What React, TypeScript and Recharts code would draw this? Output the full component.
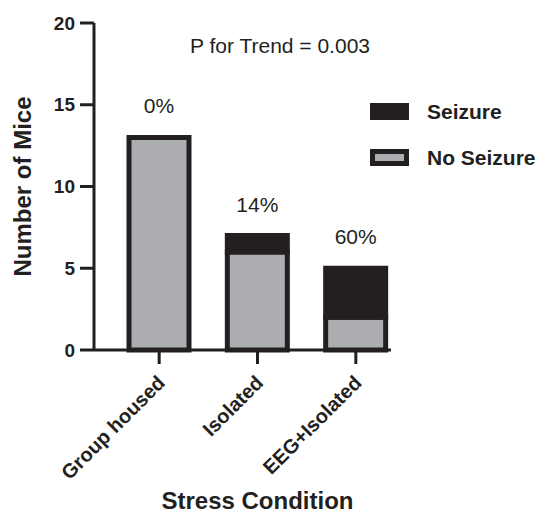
import { BarChart, Bar, XAxis, YAxis, Legend, LabelList, Label } from "recharts";

const categories = ["Group housed", "Isolated", "EEG+Isolated"];
const noSeizure = [13, 6, 2];
const seizure = [0, 1, 3];
const yTicks = [0, 5, 10, 15, 20];
const trendNote = "P for Trend = 0.003";

const INK = "#231f20";
const GREY = "#abadb0";
const FONT = "'Liberation Sans', Arial, sans-serif";

const data = categories.map((condition, i) => ({
  condition,
  noSeizure: noSeizure[i],
  seizure: seizure[i],
  pct: `${Math.round((100 * seizure[i]) / (seizure[i] + noSeizure[i]))}%`,
}));

// percentage above the full stack: the seizure segment can be empty,
// so the label hangs off the bottom segment and climbs by its pixel-per-unit
const PctLabel = ({ x, y, width, height, index, value }: any) => {
  const perUnit = height / noSeizure[index];
  const top = y - seizure[index] * perUnit;
  return (
    <text
      x={x + width / 2}
      y={top - 24}
      textAnchor="middle"
      fontSize={21}
      fill={INK}
      fontFamily={FONT}
    >
      {value}
    </text>
  );
};

const XTick = ({ x, y, payload }: any) => (
  <g transform={`translate(${x + 7},${y + 18})`}>
    <text
      x={0}
      y={0}
      textAnchor="end"
      transform="rotate(-45)"
      fontSize={20}
      fontWeight="bold"
      fill={INK}
      fontFamily={FONT}
    >
      {payload.value}
    </text>
  </g>
);

const YTitle = ({ viewBox }: any) => {
  const cx = 22;
  const cy = viewBox.y + viewBox.height / 2;
  return (
    <text
      x={cx}
      y={cy}
      transform={`rotate(-90, ${cx}, ${cy})`}
      textAnchor="middle"
      dominantBaseline="central"
      fontSize={24}
      fontWeight="bold"
      fill={INK}
      fontFamily={FONT}
    >
      Number of Mice
    </text>
  );
};

const XTitle = ({ viewBox }: any) => (
  <text
    x={viewBox.x + viewBox.width / 2 + 15}
    y={viewBox.y + viewBox.height - 5}
    textAnchor="middle"
    fontSize={24}
    fontWeight="bold"
    fill={INK}
    fontFamily={FONT}
  >
    Stress Condition
  </text>
);

const LegendBox = ({ payload }: any) => (
  <div>
    {[...(payload || [])].reverse().map((entry: any) => (
      <div
        key={entry.value}
        style={{ display: "flex", alignItems: "center", height: 17, marginBottom: 29 }}
      >
        <div
          style={{
            width: 39,
            height: 17,
            boxSizing: "border-box",
            background: entry.color,
            border: `5px solid ${INK}`,
          }}
        />
        <span
          style={{
            marginLeft: 18,
            fontSize: 21,
            fontWeight: "bold",
            color: INK,
            fontFamily: FONT,
            whiteSpace: "nowrap",
          }}
        >
          {entry.value}
        </span>
      </div>
    ))}
  </div>
);

export default function App() {
  return (
    <div style={{ position: "absolute", left: 0, top: 0, width: 542, height: 514, background: "#fff" }}>
      <BarChart
        width={542}
        height={514}
        data={data}
        margin={{ top: 23, right: 151, left: 0, bottom: 0 }}
      >
        <XAxis
          dataKey="condition"
          height={164}
          padding={{ left: 16, right: -14 }}
          axisLine={{ stroke: INK, strokeWidth: 3 }}
          tickLine={{ stroke: INK, strokeWidth: 3 }}
          tickSize={14}
          tickMargin={2}
          tick={<XTick />}
          interval={0}
        >
          <Label content={<XTitle />} />
        </XAxis>
        <YAxis
          width={94}
          domain={[0, 20]}
          ticks={yTicks}
          axisLine={{ stroke: INK, strokeWidth: 3 }}
          tickLine={{ stroke: INK, strokeWidth: 3 }}
          tickSize={14}
          tickMargin={5}
          tick={{ fontSize: 19, fontWeight: "bold", fill: INK, fontFamily: FONT }}
        >
          <Label content={<YTitle />} />
        </YAxis>
        <Legend
          layout="vertical"
          align="center"
          verticalAlign="middle"
          content={<LegendBox />}
          wrapperStyle={{ top: 103, left: 370, width: 172, height: 80 }}
        />
        <Bar
          dataKey="noSeizure"
          name="No Seizure"
          stackId="a"
          fill={GREY}
          stroke={INK}
          strokeWidth={5}
          barSize={60}
          isAnimationActive={false}
        >
          <LabelList dataKey="pct" content={<PctLabel />} />
        </Bar>
        <Bar
          dataKey="seizure"
          name="Seizure"
          stackId="a"
          fill={INK}
          stroke={INK}
          strokeWidth={5}
          barSize={60}
          isAnimationActive={false}
        />
      </BarChart>
      <div
        style={{
          position: "absolute",
          left: 180,
          top: 35,
          width: 200,
          textAlign: "center",
          fontSize: 21,
          lineHeight: 1,
          color: INK,
          fontFamily: FONT,
          whiteSpace: "nowrap",
        }}
      >
        {trendNote}
      </div>
    </div>
  );
}
